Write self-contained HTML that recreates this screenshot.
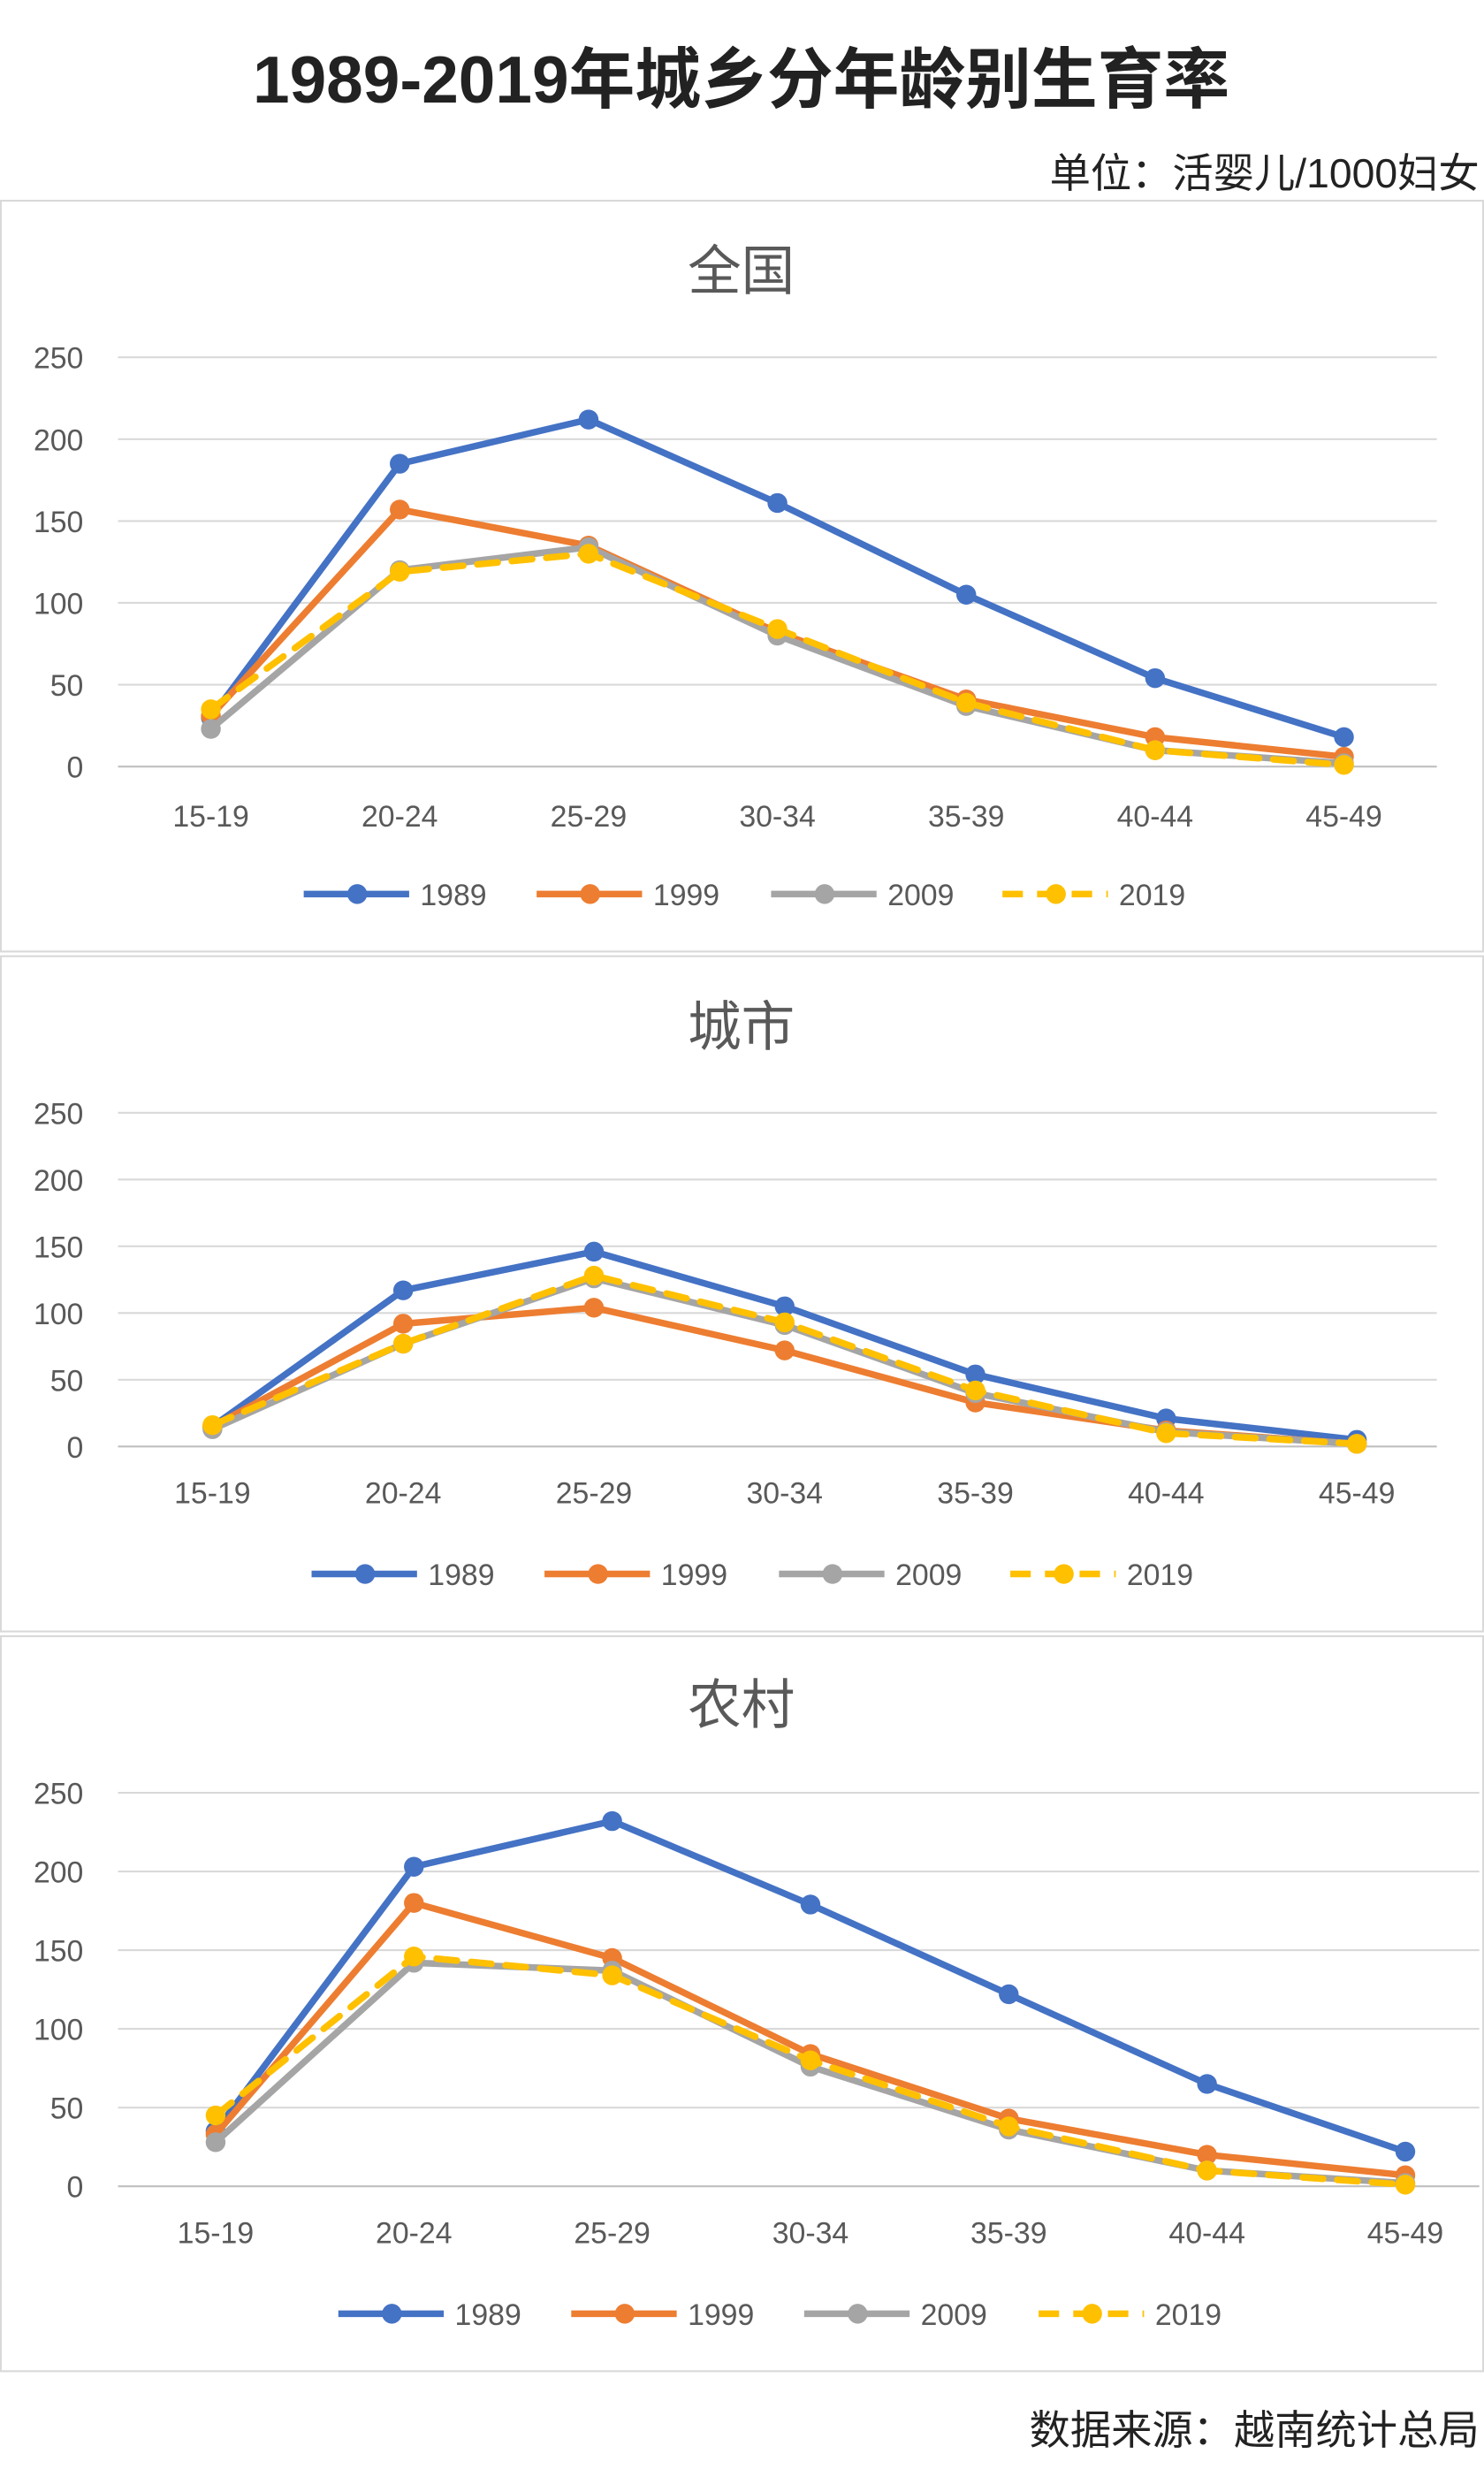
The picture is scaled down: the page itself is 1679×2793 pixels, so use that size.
<!DOCTYPE html>
<html><head><meta charset="utf-8">
<style>
html,body{margin:0;padding:0;background:#fff;}
svg{display:block;font-family:"Liberation Sans","Noto Sans CJK SC",sans-serif;}
</style></head>
<body>
<svg id="chart" width="1679" height="2793" viewBox="0 0 943 1568.6" xmlns="http://www.w3.org/2000/svg">
<rect x="0" y="0" width="943" height="1569" fill="#fff"/>
<text x="471" y="65" text-anchor="middle" font-size="42" font-weight="bold" fill="#222">1989-2019年城乡分年龄别生育率</text>
<text x="940" y="119" text-anchor="end" font-size="26" fill="#222">单位：活婴儿/1000妇女</text>
<text x="940" y="1553" text-anchor="end" font-size="26" fill="#222">数据来源：越南统计总局</text>
<g id="panels"></g>
</svg>
<script>
const categories = ["15-19","20-24","25-29","30-34","35-39","40-44","45-49"];
const seriesNames = ["1989","1999","2009","2019"];
const yTicks = [0,50,100,150,200,250];
const nationalTitle = "全国";
const national1989 = [30,185,212,161,105,54,18];
const national1999 = [31,157,135,82,41,18,6];
const national2009 = [23,120,134,80,37,10,2];
const national2019 = [35,119,130,84,39,10,1];
const urbanTitle = "城市";
const urban1989 = [15,117,146,105,54,21,5];
const urban1999 = [15,92,104,72,33,12,2];
const urban2009 = [13,77,126,91,40,11,2];
const urban2019 = [16,77,128,93,42,10,2];
const ruralTitle = "农村";
const rural1989 = [35,203,232,179,122,65,22];
const rural1999 = [33,180,145,84,43,20,7];
const rural2009 = [28,142,137,76,36,10,2];
const rural2019 = [45,146,134,80,38,10,1];

const colors = ["#4472C4","#ED7D31","#A5A5A5","#FFC000"];
const NS = "http://www.w3.org/2000/svg";
const root = document.getElementById("panels");
function mk(tag, attrs, parent){
  const e = document.createElementNS(NS, tag);
  for (const k in attrs) e.setAttribute(k, attrs[k]);
  parent.appendChild(e); return e;
}
const panels = [
  {key:"national", title:nationalTitle, data:[national1989,national1999,national2009,national2019],
   box:[0,127,943,478], titleY:184, yTop:227, yZero:487, x0:134, dx:120, gridR:913, xLabY:525, legY:568,
   legX:[193,341,490,637]},
  {key:"urban", title:urbanTitle, data:[urban1989,urban1999,urban2009,urban2019],
   box:[0,607,943,430], titleY:664, yTop:707, yZero:919, x0:135, dx:121.2, gridR:913, xLabY:955, legY:1000,
   legX:[198,346,495,642]},
  {key:"rural", title:ruralTitle, data:[rural1989,rural1999,rural2009,rural2019],
   box:[0,1039,943,468], titleY:1095, yTop:1139, yZero:1389, x0:137, dx:126, gridR:940, xLabY:1425, legY:1470,
   legX:[215,363,511,660]}
];
panels.forEach(p=>{
  const g = mk("g",{},root);
  
  
  mk("rect",{x:p.box[0]+0.5,y:p.box[1]+0.5,width:p.box[2]-1,height:p.box[3]-1,fill:"#fff",stroke:"#d9d9d9","stroke-width":1.2},g);
  const t = mk("text",{x:471,y:p.titleY,"text-anchor":"middle","font-size":34,fill:"#595959"},g);
  t.textContent = p.title;
  
  
  const maxV = yTicks[yTicks.length-1];
  const ys = v => p.yZero - (v/maxV)*(p.yZero-p.yTop);
  const xs = i => p.x0 + i*p.dx;
  yTicks.forEach(v=>{
    mk("line",{x1:75,x2:p.gridR,y1:ys(v),y2:ys(v),stroke:v===0?"#bfbfbf":"#d9d9d9","stroke-width":1.2},g);
    const l = mk("text",{x:53,y:ys(v)+7,"text-anchor":"end","font-size":19,fill:"#595959"},g);
    l.textContent = v;
    
    
  });
  categories.forEach((c,i)=>{
    const l = mk("text",{x:xs(i),y:p.xLabY,"text-anchor":"middle","font-size":19,fill:"#595959"},g);
    l.textContent = c;
    
    
  });
  p.data.forEach((arr,s)=>{
    const sg = mk("g",{},g);
    
    
    const pts = arr.map((v,i)=>xs(i)+","+ys(v)).join(" ");
    const attrs = {points:pts,fill:"none",stroke:colors[s],"stroke-width":4.2,"stroke-linejoin":"round","stroke-linecap":"round"};
    if (s===3) attrs["stroke-dasharray"]="13 9";
    mk("polyline",attrs,sg);
    arr.forEach((v,i)=>{
      const c = mk("circle",{cx:xs(i),cy:ys(v),r:6.3,fill:colors[s]},sg);
      
      
    });
    const lx = p.legX[s];
    const lg = mk("g",{},g);
    
    
    const la = {x1:lx,x2:lx+67,y1:p.legY,y2:p.legY,stroke:colors[s],"stroke-width":4.2};
    if (s===3) la["stroke-dasharray"]="13 9";
    mk("line",la,lg);
    mk("circle",{cx:lx+34,cy:p.legY,r:6.3,fill:colors[s]},lg);
    const lt = mk("text",{x:lx+74,y:p.legY+7,"font-size":19,fill:"#595959"},lg);
    lt.textContent = seriesNames[s];
  });
});
</script>
</body></html>
